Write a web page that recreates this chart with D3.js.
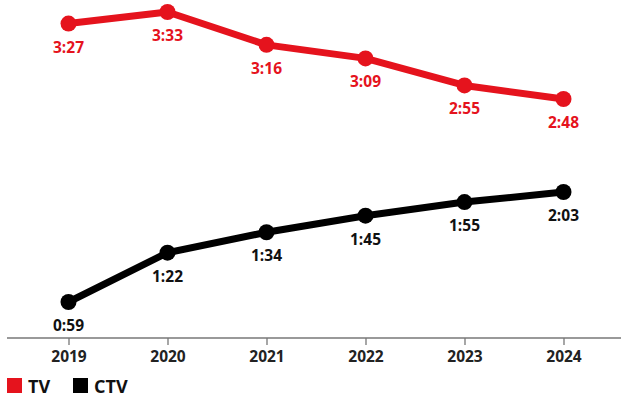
<!DOCTYPE html>
<html>
<head>
<meta charset="utf-8">
<script src="https://cdn.jsdelivr.net/npm/d3@7"></script>
<style>
  body { margin: 0; background: #fff; }
  text { font-family: "Open Sans", sans-serif; font-weight: 700; }
</style>
</head>
<body>
<div id="chart"></div>
<script>
// ----------------
// TV vs CTV daily time spent
// ----------------

// data: minutes per day, labels shown as h:mm
const years = ["2019", "2020", "2021", "2022", "2023", "2024"];
const tvMinutes = [207, 213, 196, 189, 175, 168];
const ctvMinutes = [59, 82, 94, 105, 115, 123];
const seriesNames = ["TV", "CTV"];

const red = "#e5131d";
const black = "#000";

const width = 621, height = 400;

const svg = d3.select("#chart")
    .append("svg")
    .attr("width", width)
    .attr("height", height);

// x axis
const x = d3.scalePoint()
    .domain(years)
    .range([68.5, 563.5]);

// two separate y scales (chart has no y axis, the two lines sit in their own bands)
const yTV = d3.scaleLinear()
    .domain([168, 213])
    .range([99, 12]);

const yCTV = d3.scaleLog()
    .domain([59, 123])
    .range([302, 192]);

const fmt = m => Math.floor(m / 60) + ":" + String(m % 60).padStart(2, "0");

// axis line
const xAxis = svg.append("g")
    .attr("transform", "translate(0,338)")
    .call(d3.axisBottom(x).tickSize(7).tickPadding(6).tickSizeOuter(0));
xAxis.select(".domain").remove();
xAxis.append("line")
    .attr("x1", 7).attr("x2", width)
    .attr("stroke", "#777").attr("stroke-width", 1.3);
xAxis.selectAll(".tick line").attr("stroke", "#777").attr("stroke-width", 1.3);
xAxis.selectAll(".tick text")
    .attr("fill", "#222")
    .style("font-size", "15.5px")
    .style("font-family", "'Open Sans', sans-serif")
    .style("font-weight", 700);

function drawSeries(values, y, color) {
    const pts = values.map((v, i) => ({ year: years[i], v: v }));
    const g = svg.append("g");
    g.append("path")
        .datum(pts)
        .attr("fill", "none")
        .attr("stroke", color)
        .attr("stroke-width", 7)
        .attr("stroke-linejoin", "round")
        .attr("d", d3.line().x(d => x(d.year)).y(d => y(d.v)));
    g.selectAll("circle")
        .data(pts)
        .join("circle")
        .attr("cx", d => x(d.year))
        .attr("cy", d => y(d.v))
        .attr("r", 8)
        .attr("fill", color);
    g.selectAll("text")
        .data(pts)
        .join("text")
        .attr("x", d => x(d.year))
        .attr("y", d => y(d.v) + 29)
        .attr("text-anchor", "middle")
        .attr("fill", color === black ? "#111" : color)
        .style("font-size", "15.5px")
        .text(d => fmt(d.v));
}

drawSeries(tvMinutes, yTV, red);
drawSeries(ctvMinutes, yCTV, black);

// legend
const legendX = [7, 73];
const legend = svg.append("g")
    .selectAll("g")
    .data(seriesNames)
    .join("g")
    .attr("transform", (d, i) => `translate(${legendX[i]},378)`);
legend.append("rect")
    .attr("width", 15).attr("height", 15)
    .attr("fill", (d, i) => i === 0 ? red : black);
legend.append("text")
    .attr("x", 21).attr("y", 15)
    .attr("fill", "#111")
    .style("font-size", "18px")
    .text(d => d);
</script>
</body>
</html>
